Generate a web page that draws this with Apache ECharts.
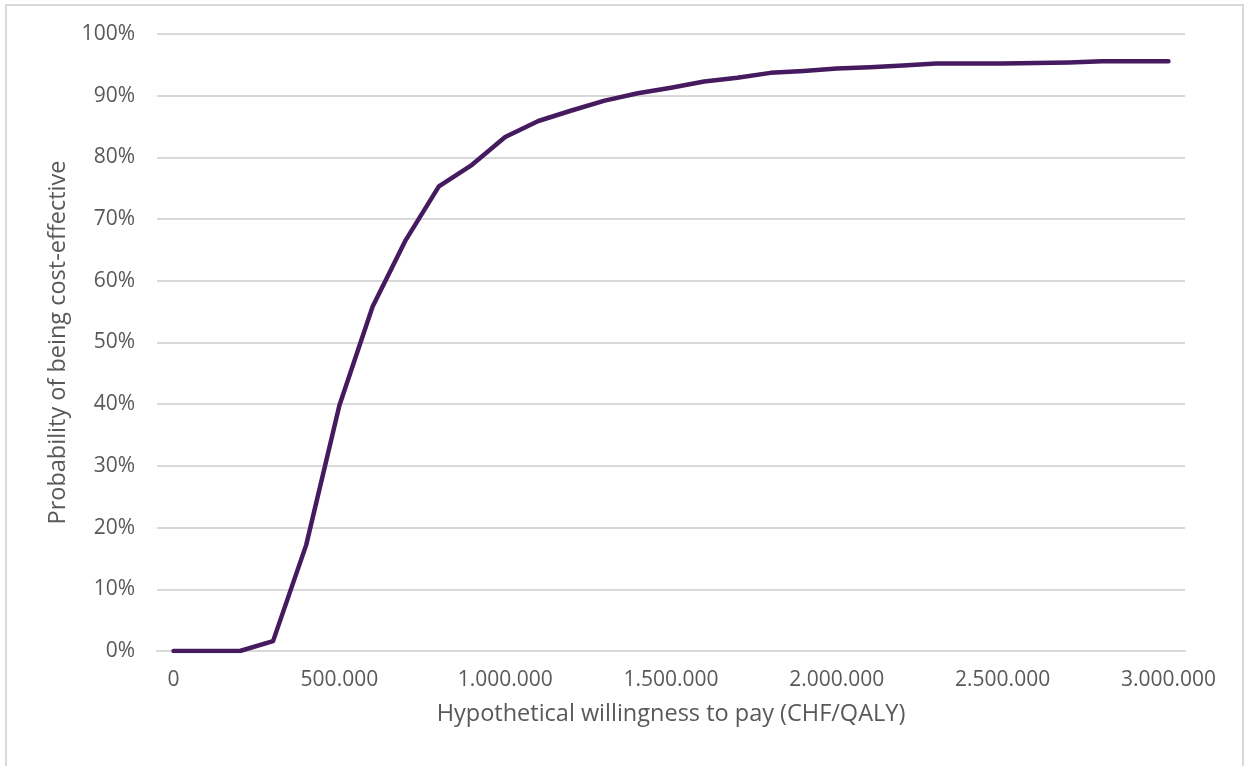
<!DOCTYPE html>
<html>
<head>
<meta charset="utf-8">
<script src="https://cdn.jsdelivr.net/npm/echarts@6/dist/echarts.min.js"></script>
<style>
  html, body { margin: 0; padding: 0; background: #ffffff; }
  #chart { width: 1248px; height: 766px; }
</style>
</head>
<body>
<div id="chart"></div>
<script>
// Willingness-to-pay thresholds (CHF/QALY)
const wtpThresholds = [
  0, 100000, 200000, 300000, 400000, 500000, 600000, 700000, 800000, 900000,
  1000000, 1100000, 1200000, 1300000, 1400000, 1500000, 1600000, 1700000, 1800000, 1900000,
  2000000, 2100000, 2200000, 2300000, 2400000, 2500000, 2600000, 2700000, 2800000, 2900000,
  3000000
];

// Probability of being cost-effective (%)
const probCostEffective = [
  0, 0, 0, 1.6, 17.2, 39.8, 55.8, 66.6, 75.3, 78.8,
  83.3, 85.9, 87.6, 89.2, 90.4, 91.3, 92.3, 92.9, 93.7, 94.0,
  94.4, 94.6, 94.9, 95.2, 95.2, 95.2, 95.3, 95.4, 95.6, 95.6,
  95.6
];

const xAxisTitle = 'Hypothetical willingness to pay (CHF/QALY)';
const yAxisTitle = 'Probability of being cost-effective';

const FONT = '"Open Sans", Lato, sans-serif';
const TEXT_COLOR = '#595959';
const GRID_COLOR = '#d9d9d9';

function formatThousands(v) {
  return String(v).replace(/\B(?=(\d{3})+(?!\d))/g, '.');
}

const chart = echarts.init(document.getElementById('chart'), null, { renderer: 'canvas' });

chart.setOption({
  animation: false,
  backgroundColor: '#ffffff',
  graphic: [{
    type: 'rect',
    shape: { x: 6, y: 5, width: 1237, height: 800 },
    style: { fill: 'none', stroke: GRID_COLOR, lineWidth: 2 },
    silent: true
  }],
  grid: { left: 157, right: 63, top: 34, bottom: 115, containLabel: false },
  xAxis: {
    type: 'category',
    data: wtpThresholds,
    boundaryGap: true,
    axisLine: { show: true, lineStyle: { color: GRID_COLOR, width: 2 } },
    axisTick: { show: false },
    axisLabel: {
      interval: 4,
      color: TEXT_COLOR,
      fontFamily: FONT,
      fontSize: 21,
      margin: 19,
      formatter: (v) => formatThousands(v)
    },
    name: xAxisTitle,
    nameLocation: 'middle',
    nameGap: 51,
    nameTextStyle: { color: TEXT_COLOR, fontFamily: FONT, fontSize: 23.5 }
  },
  yAxis: {
    type: 'value',
    min: 0,
    max: 100,
    interval: 10,
    axisLine: { show: false },
    axisTick: { show: false },
    splitLine: { show: true, lineStyle: { color: GRID_COLOR, width: 2 } },
    axisLabel: {
      color: TEXT_COLOR,
      fontFamily: FONT,
      fontSize: 21,
      margin: 22,
      formatter: (v) => v + '%'
    },
    name: yAxisTitle,
    nameLocation: 'middle',
    nameGap: 83,
    nameTextStyle: { color: TEXT_COLOR, fontFamily: FONT, fontSize: 23.5 }
  },
  series: [{
    type: 'line',
    data: probCostEffective,
    showSymbol: false,
    smooth: false,
    lineStyle: { color: '#451a5f', width: 4.5, cap: 'round', join: 'round' },
    itemStyle: { color: '#451a5f' }
  }]
});
</script>
</body>
</html>
